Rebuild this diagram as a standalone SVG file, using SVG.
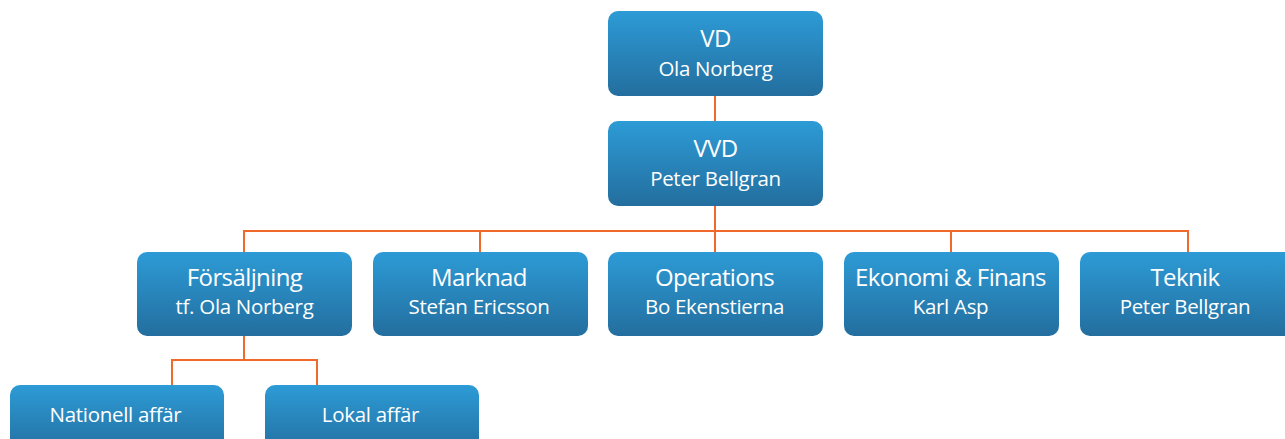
<svg xmlns="http://www.w3.org/2000/svg" width="1285" height="439" viewBox="0 0 1285 439">
  <defs>
    <linearGradient id="boxFill" x1="0" y1="0" x2="0" y2="1">
      <stop offset="0" stop-color="#2d9bd6"/>
      <stop offset="1" stop-color="#236e9e"/>
    </linearGradient>
    <style>
      .box { fill: url(#boxFill); }
      .title { font-family: "Open Sans", "Noto Sans", sans-serif; font-size: 24px; letter-spacing: -0.6px; fill: #ffffff; text-anchor: middle; }
      .sub { font-family: "Open Sans", "Noto Sans", sans-serif; font-size: 20.5px; letter-spacing: -0.3px; fill: #ffffff; text-anchor: middle; }
      .link { fill: none; stroke: #f0692a; stroke-width: 2; }
    </style>
  </defs>
  <rect width="1285" height="439" fill="#ffffff"/>

  <!-- connectors -->
  <g id="connectors" class="link">
    <path d="M715 96 V121"/>
    <path d="M715 206 V231 M244 252 V231 H1188 V252 M480 231 V252 M715 231 V252 M951 231 V252"/>
    <path d="M244 336 V360 M172 385 V360 H317 V385"/>
  </g>

  <g id="vd">
    <rect class="box" x="608" y="11" width="215" height="85" rx="10"/>
    <text class="title" x="715.5" y="47">VD</text>
    <text class="sub" x="715.5" y="76">Ola Norberg</text>
  </g>
  <g id="vvd">
    <rect class="box" x="608" y="121" width="215" height="85" rx="10"/>
    <text class="title" x="715.5" y="157">VVD</text>
    <text class="sub" x="715.5" y="186">Peter Bellgran</text>
  </g>

  <g id="forsaljning">
    <rect class="box" x="137" y="252" width="215" height="84" rx="10"/>
    <text class="title" x="244.5" y="286">Försäljning</text>
    <text class="sub" x="244.5" y="314">tf. Ola Norberg</text>
  </g>
  <g id="marknad">
    <rect class="box" x="373" y="252" width="215" height="84" rx="10"/>
    <text class="title" x="479" y="286">Marknad</text>
    <text class="sub" x="479" y="314">Stefan Ericsson</text>
  </g>
  <g id="operations">
    <rect class="box" x="608" y="252" width="215" height="84" rx="10"/>
    <text class="title" x="714.5" y="286">Operations</text>
    <text class="sub" x="714.5" y="314">Bo Ekenstierna</text>
  </g>
  <g id="ekonomi">
    <rect class="box" x="844" y="252" width="215" height="84" rx="10"/>
    <text class="title" x="950.5" y="286">Ekonomi &amp; Finans</text>
    <text class="sub" x="950.5" y="314">Karl Asp</text>
  </g>
  <g id="teknik">
    <rect class="box" x="1080" y="252" width="215" height="84" rx="10"/>
    <text class="title" x="1185" y="286">Teknik</text>
    <text class="sub" x="1185" y="314">Peter Bellgran</text>
  </g>

  <g id="nationell">
    <rect class="box" x="10" y="385" width="214" height="70" rx="10"/>
    <text class="sub" x="115.5" y="422">Nationell affär</text>
  </g>
  <g id="lokal">
    <rect class="box" x="265" y="385" width="214" height="70" rx="10"/>
    <text class="sub" x="370.5" y="422">Lokal affär</text>
  </g>
</svg>
